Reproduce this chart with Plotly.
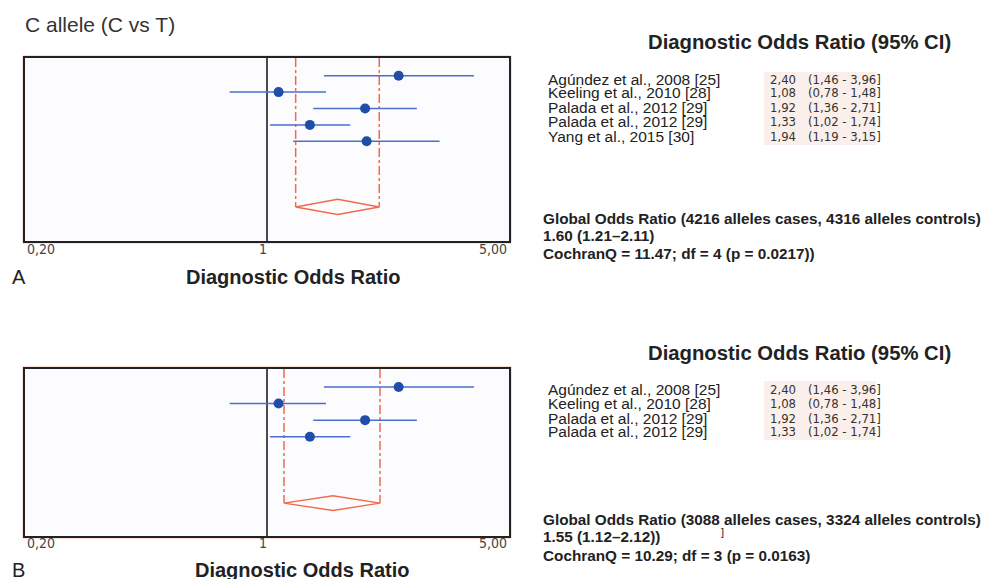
import numpy as np
import plotly.graph_objects as go

W, H = 986, 579

# ---------------- data ----------------
studies_a = ["Agúndez et al., 2008 [25]", "Keeling et al., 2010 [28]",
             "Palada et al., 2012 [29]", "Palada et al., 2012 [29]",
             "Yang et al., 2015 [30]"]
or_a = [2.40, 1.08, 1.92, 1.33, 1.94]
lo_a = [1.46, 0.78, 1.36, 1.02, 1.19]
hi_a = [3.96, 1.48, 2.71, 1.74, 3.15]
pooled_a = [1.60, 1.21, 2.11]

studies_b = ["Agúndez et al., 2008 [25]", "Keeling et al., 2010 [28]",
             "Palada et al., 2012 [29]", "Palada et al., 2012 [29]"]
or_b = [2.40, 1.08, 1.92, 1.33]
lo_b = [1.46, 0.78, 1.36, 1.02]
hi_b = [3.96, 1.48, 2.71, 1.74]
pooled_b = [1.55, 1.12, 2.12]

tick_vals = [0.2, 1, 5]
tick_text = ["0,20", "1", "5,00"]

global_a = ["Global Odds Ratio (4216 alleles cases, 4316 alleles controls)",
            "1.60 (1.21–2.11)",
            "CochranQ = 11.47; df = 4 (p = 0.0217))"]
global_b = ["Global Odds Ratio (3088 alleles cases, 3324 alleles controls)",
            "1.55 (1.12–2.12))",
            "CochranQ = 10.29; df = 3 (p = 0.0163)"]

# ---------------- style ----------------
ARIAL = "Arial, Liberation Sans, Helvetica, sans-serif"
NARROW = "Liberation Sans Narrow, Arial Narrow, DejaVu Sans Condensed, sans-serif"
BLUE_LINE = "#4a6fd0"
BLUE_DOT = "#1f4ea8"
RED = "#f06a4c"
TXT = "#222222"


def py(p):
    return 1 - p / H


def pxx(p):
    return p / W


def fmt(v):
    return f"{v:.2f}".replace(".", ",")


fig = go.Figure()

panels = [
    dict(studies=studies_a, est=or_a, lo=lo_a, hi=hi_a, pooled=pooled_a,
         top=58, bot=241, yrange=[11.08, -0.08], ydia=9.0, hdia=0.46,
         xa="x", ya="y", rows_px=[79.3, 92.7, 107.3, 121.7, 136.7],
         head_y=41.7, glob=global_a, glob_y=[218.3, 235.7, 253.3],
         tick_y=249, lab_x=292.5, lab_y=277, letter="A", box=[72, 145]),
    dict(studies=studies_b, est=or_b, lo=lo_b, hi=hi_b, pooled=pooled_b,
         top=369, bot=536, yrange=[9.98, -0.08], ydia=8.0, hdia=0.44,
         xa="x2", ya="y2", rows_px=[389.3, 403.3, 418.3, 431.7],
         head_y=353.3, glob=global_b, glob_y=[519.3, 536.7, 555.0],
         tick_y=543.3, lab_x=302, lab_y=569.5, letter="B", box=[381, 440]),
]

annotations = []
shapes = []

for i, p in enumerate(panels):
    n = len(p["studies"])
    rows = list(range(1, n + 1))
    y0, y1 = p["yrange"][1], p["yrange"][0]
    # reference line at OR = 1
    fig.add_trace(go.Scatter(x=[1, 1], y=[y0, y1], mode="lines",
                             line=dict(color="#111111", width=1.5),
                             xaxis=p["xa"], yaxis=p["ya"], hoverinfo="skip"))
    # pooled CI dashed lines
    est, plo, phi = p["pooled"]
    for xv in (plo, phi):
        fig.add_trace(go.Scatter(x=[xv, xv], y=[y0, p["ydia"]], mode="lines",
                                 line=dict(color=RED, width=1.5, dash="dashdot"),
                                 xaxis=p["xa"], yaxis=p["ya"], hoverinfo="skip"))
    # diamond
    fig.add_trace(go.Scatter(
        x=[plo, est, phi, est, plo],
        y=[p["ydia"], p["ydia"] - p["hdia"], p["ydia"], p["ydia"] + p["hdia"], p["ydia"]],
        mode="lines", line=dict(color=RED, width=1.5),
        xaxis=p["xa"], yaxis=p["ya"], hoverinfo="skip"))
    # CI lines
    xs, ys = [], []
    for r, a, b in zip(rows, p["lo"], p["hi"]):
        xs += [a, b, None]
        ys += [r, r, None]
    fig.add_trace(go.Scatter(x=xs, y=ys, mode="lines",
                             line=dict(color=BLUE_LINE, width=1.5),
                             xaxis=p["xa"], yaxis=p["ya"], hoverinfo="skip"))
    fig.add_trace(go.Scatter(x=p["est"], y=rows, mode="markers",
                             marker=dict(color=BLUE_DOT, size=10, symbol="circle"),
                             xaxis=p["xa"], yaxis=p["ya"], hoverinfo="skip"))

    # tick labels
    anchors = ["left", "center", "right"]
    shifts = [0, -4, 0]
    for tv, tt, an, sh in zip(tick_vals, tick_text, anchors, shifts):
        annotations.append(dict(x=np.log10(tv), y=py(p["tick_y"]), xref=p["xa"], yref="paper",
                                text=tt, showarrow=False, xanchor=an, yanchor="middle",
                                xshift=sh, font=dict(family=NARROW, size=14, color="#444444")))
    # axis title
    annotations.append(dict(x=pxx(p["lab_x"]), y=py(p["lab_y"]), xref="paper", yref="paper",
                            text="<b>Diagnostic Odds Ratio</b>", showarrow=False,
                            xanchor="center", yanchor="middle",
                            font=dict(family=ARIAL, size=20, color=TXT)))
    annotations.append(dict(x=pxx(10), y=py(p["lab_y"]), xref="paper", yref="paper",
                            text=p["letter"], showarrow=False, xanchor="left", yanchor="middle",
                            font=dict(family=ARIAL, size=20, color=TXT)))
    # right header
    annotations.append(dict(x=pxx(799), y=py(p["head_y"]), xref="paper", yref="paper",
                            text="<b>Diagnostic Odds Ratio (95% CI)</b>", showarrow=False,
                            xanchor="center", yanchor="middle",
                            font=dict(family=ARIAL, size=20.3, color=TXT)))
    # value box background
    shapes.append(dict(type="rect", xref="paper", yref="paper",
                       x0=pxx(764), x1=pxx(876), y0=py(p["box"][1]), y1=py(p["box"][0]),
                       fillcolor="#fbefeb", line=dict(width=0), layer="below"))
    for name, e, a, b, ry in zip(p["studies"], p["est"], p["lo"], p["hi"], p["rows_px"]):
        annotations.append(dict(x=pxx(546), y=py(ry), xref="paper", yref="paper",
                                text=name, showarrow=False, xanchor="left", yanchor="middle",
                                font=dict(family=ARIAL, size=15.5, color=TXT)))
        annotations.append(dict(x=pxx(768), y=py(ry), xref="paper", yref="paper",
                                text=fmt(e), showarrow=False, xanchor="left", yanchor="middle",
                                font=dict(family=NARROW, size=13, color="#333333")))
        annotations.append(dict(x=pxx(806), y=py(ry), xref="paper", yref="paper",
                                text=f"({fmt(a)} - {fmt(b)}]", showarrow=False,
                                xanchor="left", yanchor="middle",
                                font=dict(family=NARROW, size=13, color="#333333")))
    for line, gy in zip(p["glob"], p["glob_y"]):
        annotations.append(dict(x=pxx(541), y=py(gy), xref="paper", yref="paper",
                                text=f"<b>{line}</b>", showarrow=False, xanchor="left",
                                yanchor="middle", font=dict(family=ARIAL, size=15.3, color=TXT)))
    # outer salmon frame
    shapes.append(dict(type="rect", xref="paper", yref="paper",
                       x0=pxx(23), x1=pxx(511), y0=py(p["bot"] + 2), y1=py(p["top"] - 2),
                       line=dict(color="#f4c0b0", width=1), layer="below"))

# small stray bracket in panel B
annotations.append(dict(x=pxx(722), y=py(531.7), xref="paper", yref="paper", text="]",
                        showarrow=False, xanchor="center", yanchor="middle",
                        font=dict(family=ARIAL, size=11, color=TXT)))
# title
annotations.append(dict(x=pxx(23), y=py(24), xref="paper", yref="paper",
                        text="C allele (C vs T)", showarrow=False, xanchor="left",
                        yanchor="middle", font=dict(family=ARIAL, size=21, color="#333333")))

xdom = [pxx(25), pxx(509)]
axis_x = dict(type="log", range=[np.log10(0.2), np.log10(5)], domain=xdom,
              showgrid=False, zeroline=False, showticklabels=False, ticks="",
              showline=True, mirror=True, linecolor="#222222", linewidth=1.5)
fig.update_layout(
    width=W, height=H, margin=dict(l=0, r=0, t=0, b=0),
    paper_bgcolor="white", plot_bgcolor="#fcfcfe", showlegend=False,
    xaxis=dict(axis_x, anchor="y"),
    yaxis=dict(range=panels[0]["yrange"], domain=[py(241), py(58)], anchor="x",
               showgrid=False, zeroline=False, showticklabels=False, ticks="",
               showline=True, mirror=True, linecolor="#222222", linewidth=1.5),
    xaxis2=dict(axis_x, anchor="y2"),
    yaxis2=dict(range=panels[1]["yrange"], domain=[py(536), py(369)], anchor="x2",
                showgrid=False, zeroline=False, showticklabels=False, ticks="",
                showline=True, mirror=True, linecolor="#222222", linewidth=1.5),
    annotations=annotations, shapes=shapes,
)

fig.write_html("out.html", config={"displayModeBar": False},
               post_script="document.body.style.margin='0';")
